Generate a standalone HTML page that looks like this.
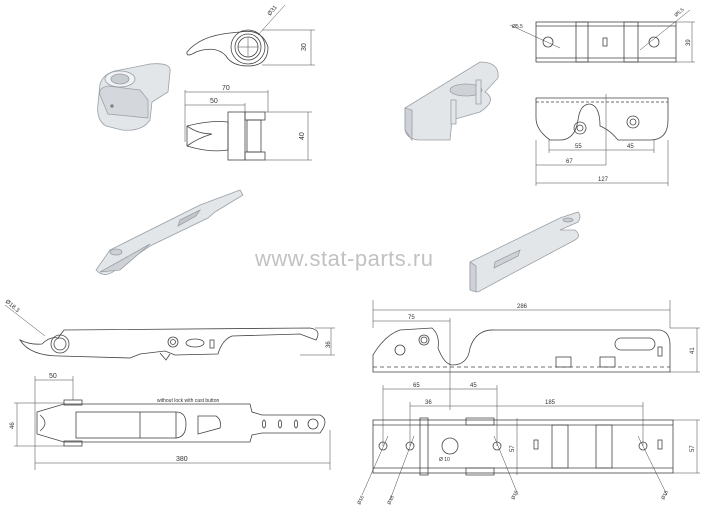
<!DOCTYPE html>
<html><head><meta charset="utf-8"><style>
html,body{margin:0;padding:0;background:#fff;width:721px;height:513px;overflow:hidden}
svg{display:block}
text{font-family:"Liberation Sans",sans-serif;fill:#333}
</style></head><body>
<svg width="721" height="513" viewBox="0 0 721 513" xmlns="http://www.w3.org/2000/svg">
<g fill="none" stroke="#444" stroke-width="0.8">
<!-- ===== top-left hook 3D ===== -->
<g fill="#e3e6e9" stroke="#9aa0a6">
<path d="M100 84 Q104 72 120 70 L150 64 Q172 62 170 72 L168 92 L152 102 L150 120 Q142 132 122 130 L106 126 Q96 120 98 104 Z"/>
<path d="M100 95 Q98 88 108 86 L140 90 L148 100 L148 118 L108 114 Z" fill="#d4d8dc"/>
<ellipse cx="120" cy="79" rx="15" ry="8" fill="#f0f2f4"/>
<ellipse cx="120" cy="79" rx="9" ry="5" fill="#c8cdd2"/>
<circle cx="112" cy="106" r="1.5" fill="#777"/>
</g>
<!-- hook 2D -->
<path d="M187 52 Q200 36 230 33 L240 32 Q262 28 268 47 Q268 66 248 66 Q232 66 226 56 Q216 45 196 52 Q186 58 187 52 Z"/>
<circle cx="248" cy="47" r="17"/><circle cx="248" cy="47" r="13"/><circle cx="248" cy="47" r="10"/>
<line x1="238" y1="47" x2="258" y2="47" stroke-width="0.5"/><line x1="248" y1="37" x2="248" y2="57" stroke-width="0.5"/>
<line x1="258" y1="35" x2="285" y2="5" stroke-width="0.5"/>
<text x="270" y="16" font-size="6" transform="rotate(-50 270 16)" stroke="none">Ø31</text>
<line x1="262" y1="30" x2="315" y2="30" stroke-width="0.5"/><line x1="262" y1="65" x2="315" y2="65" stroke-width="0.5"/>
<line x1="311" y1="30" x2="311" y2="65" stroke-width="0.5"/>
<text x="306" y="51" font-size="7" transform="rotate(-90 306 51)" stroke="none">30</text>
<!-- fork 2D -->
<path d="M187 126 Q210 120 228 122 L228 150 Q210 153 187 146 Z"/>
<path d="M187 126 Q198 134 212 134 Q198 138 187 146"/>
<rect x="228" y="112" width="17" height="48"/><rect x="245" y="112" width="20" height="8"/><rect x="245" y="152" width="20" height="8"/>
<rect x="247" y="120" width="14" height="32"/>
<line x1="185" y1="90" x2="185" y2="142" stroke-width="0.5"/>
<line x1="185" y1="92" x2="268" y2="92" stroke-width="0.5"/><text x="222" y="90" font-size="7" stroke="none">70</text>
<line x1="185" y1="105" x2="245" y2="105" stroke-width="0.5"/><text x="210" y="103" font-size="7" stroke="none">50</text>
<line x1="268" y1="90" x2="268" y2="112" stroke-width="0.5"/><line x1="245" y1="103" x2="245" y2="112" stroke-width="0.5"/>
<line x1="265" y1="112" x2="312" y2="112" stroke-width="0.5"/><line x1="265" y1="160" x2="312" y2="160" stroke-width="0.5"/>
<line x1="308" y1="112" x2="308" y2="160" stroke-width="0.5"/>
<text x="304" y="140" font-size="7" transform="rotate(-90 304 140)" stroke="none">40</text>
<!-- long arm 3D -->
<g fill="#e3e6e9" stroke="#9aa0a6">
<path d="M96 270 L110 250 L200 205 L240 190 L243 195 L215 212 L208 218 L150 246 L118 268 Q105 280 96 270 Z"/>
<path d="M100 272 L118 262 L150 244 L120 270 Z" fill="#ced2d6"/>
<ellipse cx="116" cy="252" rx="6" ry="3" fill="#cdd2d7"/>
<path d="M180 220 L200 210 L196 216 L178 226 Z" fill="#c2c7cc"/>
</g>
<!-- ===== top-right ===== -->
<g fill="#e3e6e9" stroke="#9aa0a6">
<path d="M405 108 L480 62 Q500 62 498 78 L485 92 Q498 100 480 112 L452 120 L450 140 L418 140 Q405 138 405 128 Z"/>
<path d="M405 108 L412 110 L412 140 L405 130 Z" fill="#ced2d6"/>
<ellipse cx="466" cy="90" rx="16" ry="6" fill="#ced2d6"/>
<rect x="476" y="80" width="5" height="24"/><rect x="451" y="100" width="5" height="24"/>
</g>
<rect x="536" y="22" width="140" height="40"/>
<line x1="536" y1="26" x2="676" y2="26"/><line x1="536" y1="58" x2="676" y2="58"/>
<rect x="576" y="22" width="12" height="40"/><rect x="624" y="22" width="14" height="40"/>
<rect x="603" y="38" width="4" height="8"/>
<circle cx="548" cy="42" r="5"/><circle cx="654" cy="42" r="5"/>
<line x1="510" y1="25" x2="560" y2="48" stroke-width="0.5"/><line x1="640" y1="50" x2="690" y2="10" stroke-width="0.5"/>
<text x="512" y="28" font-size="5" stroke="none">Ø5.5</text><text x="676" y="17" font-size="5" stroke="none" transform="rotate(-40 676 17)">Ø5.5</text>
<line x1="676" y1="22" x2="695" y2="22" stroke-width="0.5"/><line x1="676" y1="62" x2="695" y2="62" stroke-width="0.5"/>
<line x1="692" y1="22" x2="692" y2="62" stroke-width="0.5"/><text x="690" y="46" font-size="6" stroke="none" transform="rotate(-90 690 46)">39</text>
<path d="M536 98 L668 98 L668 120 Q668 140 650 140 L618 140 Q610 130 600 126 Q600 106 590 104 Q580 104 578 120 Q575 140 560 140 L550 140 Q536 130 536 118 Z"/>
<line x1="536" y1="102" x2="668" y2="102" stroke-dasharray="3 2"/>
<circle cx="580" cy="128" r="6"/><circle cx="580" cy="128" r="3"/>
<circle cx="633" cy="122" r="6"/><circle cx="633" cy="122" r="3"/>
<line x1="606" y1="94" x2="606" y2="165" stroke-width="0.5"/>
<line x1="549" y1="140" x2="549" y2="153" stroke-width="0.5"/><line x1="654" y1="140" x2="654" y2="153" stroke-width="0.5"/>
<line x1="549" y1="150" x2="654" y2="150" stroke-width="0.5"/>
<text x="575" y="148" font-size="6" stroke="none">55</text><text x="627" y="148" font-size="6" stroke="none">45</text>
<line x1="536" y1="140" x2="536" y2="186" stroke-width="0.5"/><line x1="668" y1="140" x2="668" y2="186" stroke-width="0.5"/>
<line x1="536" y1="165" x2="606" y2="165" stroke-width="0.5"/><text x="566" y="163" font-size="6" stroke="none">67</text>
<line x1="536" y1="183" x2="668" y2="183" stroke-width="0.5"/><text x="598" y="181" font-size="6" stroke="none">127</text>
<g fill="#e3e6e9" stroke="#9aa0a6">
<path d="M470 262 L560 218 L578 212 Q582 216 578 222 L560 230 L575 230 Q582 236 575 240 L500 280 L478 292 L470 290 Z"/>
<path d="M470 262 L476 266 L476 292 L470 290 Z" fill="#ced2d6"/>
<ellipse cx="568" cy="220" rx="5" ry="2" fill="#c8cdd2"/>
<path d="M495 262 L520 250 L518 256 L494 268 Z" fill="#ced2d6"/>
</g>
<!-- ===== bottom-left ===== -->
<path d="M20 340 Q30 345 42 344 Q50 336 58 338 L64 330 L310 328 Q322 330 316 340 L300 334 L232 336 Q222 340 218 354 L175 355 L165 351 L140 354 L130 358 L60 356 Q30 356 20 340 Z"/>
<circle cx="60" cy="344" r="9"/><circle cx="60" cy="344" r="6"/>
<circle cx="173" cy="342" r="5"/><circle cx="173" cy="342" r="2.5"/>
<ellipse cx="195" cy="343" rx="9" ry="4"/><rect x="210" y="340" width="4" height="8"/>
<path d="M160 353 L166 360 L170 354"/>
<line x1="5" y1="305" x2="45" y2="336" stroke-width="0.5"/>
<text x="5" y="302" font-size="6" stroke="none" transform="rotate(40 5 302)">Ø18.3</text>
<line x1="315" y1="328" x2="335" y2="328" stroke-width="0.5"/><line x1="300" y1="355" x2="335" y2="355" stroke-width="0.5"/>
<line x1="331" y1="328" x2="331" y2="355" stroke-width="0.5"/><text x="330" y="348" font-size="6" stroke="none" transform="rotate(-90 330 348)">36</text>
<path d="M37 412 L64 404 L250 404 L252 412 L262 415 L320 415 Q330 420 320 433 L262 433 L252 435 L250 442 L64 442 L37 434 Z"/>
<path d="M40 415 Q50 423 40 431"/>
<rect x="64" y="400" width="18" height="5"/><rect x="64" y="441" width="18" height="5"/>
<rect x="76" y="412" width="100" height="26"/><line x1="140" y1="412" x2="140" y2="438"/>
<path d="M176 412 Q186 412 186 424 Q186 437 176 438"/>
<path d="M198 416 L216 416 Q222 420 220 428 L198 434 Z"/>
<ellipse cx="264" cy="424" rx="1.5" ry="4"/><ellipse cx="280" cy="424" rx="1.5" ry="4"/><ellipse cx="296" cy="424" rx="1.5" ry="4"/>
<circle cx="313" cy="424" r="5"/>
<text x="157" y="402" font-size="5" stroke="none">without lock with cast button</text>
<line x1="35" y1="376" x2="35" y2="470" stroke-width="0.5"/><line x1="73" y1="376" x2="73" y2="400" stroke-width="0.5"/>
<line x1="35" y1="380" x2="73" y2="380" stroke-width="0.5"/><text x="49" y="378" font-size="7" stroke="none">50</text>
<line x1="330" y1="430" x2="330" y2="470" stroke-width="0.5"/>
<line x1="35" y1="463" x2="330" y2="463" stroke-width="0.5"/><text x="176" y="461" font-size="7" stroke="none">380</text>
<line x1="14" y1="403" x2="64" y2="403" stroke-width="0.5"/><line x1="14" y1="446" x2="64" y2="446" stroke-width="0.5"/>
<line x1="17" y1="403" x2="17" y2="446" stroke-width="0.5"/>
<text x="14" y="429" font-size="6" stroke="none" transform="rotate(-90 14 429)">46</text>
<!-- ===== bottom-right ===== -->
<path d="M373 355 Q385 335 400 330 L432 328 Q440 335 438 348 Q444 364 452 365 Q468 365 470 348 Q476 329 495 330 L660 330 Q670 332 670 345 L670 372 L373 372 Z"/>
<line x1="373" y1="367" x2="670" y2="367" stroke-dasharray="4 3"/>
<circle cx="400" cy="350" r="5"/><circle cx="424" cy="340" r="5"/><circle cx="424" cy="340" r="3"/>
<rect x="615" y="338" width="40" height="12" rx="6"/><rect x="658" y="347" width="4" height="9"/>
<rect x="556" y="357" width="15" height="10"/><rect x="600" y="357" width="15" height="10"/>
<line x1="373" y1="300" x2="373" y2="328" stroke-width="0.5"/><line x1="670" y1="300" x2="670" y2="328" stroke-width="0.5"/>
<line x1="373" y1="310" x2="670" y2="310" stroke-width="0.5"/><text x="517" y="308" font-size="6" stroke="none">286</text>
<line x1="373" y1="321" x2="450" y2="321" stroke-width="0.5"/><text x="408" y="319" font-size="6" stroke="none">75</text>
<line x1="450" y1="318" x2="450" y2="410" stroke-width="0.5"/>
<line x1="670" y1="328" x2="700" y2="328" stroke-width="0.5"/><line x1="670" y1="372" x2="700" y2="372" stroke-width="0.5"/>
<line x1="697" y1="328" x2="697" y2="372" stroke-width="0.5"/><text x="694" y="354" font-size="6" stroke="none" transform="rotate(-90 694 354)">41</text>
<rect x="373" y="420" width="300" height="53"/>
<line x1="373" y1="425" x2="673" y2="425"/><line x1="373" y1="468" x2="673" y2="468"/>
<rect x="420" y="418" width="8" height="57"/>
<circle cx="450" cy="446" r="8"/><text x="439" y="461" font-size="5" stroke="none">Ø 10</text>
<path d="M466 418 L494 418 L494 425 L466 425 Z M466 468 L494 468 L494 475 L466 475 Z"/>
<circle cx="383" cy="446" r="4"/><circle cx="410" cy="446" r="4"/><circle cx="497" cy="446" r="4"/><circle cx="643" cy="446" r="4"/>
<rect x="534" y="440" width="4" height="9"/><rect x="658" y="440" width="4" height="9"/>
<path d="M552 425 L568 425 L568 468 L552 468 Z M596 425 L612 425 L612 468 L596 468 Z"/>
<line x1="383" y1="385" x2="383" y2="446" stroke-width="0.5"/><line x1="497" y1="385" x2="497" y2="446" stroke-width="0.5"/>
<line x1="410" y1="402" x2="410" y2="446" stroke-width="0.5"/><line x1="643" y1="402" x2="643" y2="446" stroke-width="0.5"/>
<line x1="383" y1="389" x2="497" y2="389" stroke-width="0.5"/><text x="413" y="387" font-size="6" stroke="none">65</text><text x="470" y="387" font-size="6" stroke="none">45</text>
<line x1="410" y1="406" x2="643" y2="406" stroke-width="0.5"/><text x="425" y="404" font-size="6" stroke="none">36</text><text x="545" y="404" font-size="6" stroke="none">185</text>
<line x1="517" y1="418" x2="517" y2="475" stroke-width="0.5"/>
<text x="514" y="452" font-size="6" stroke="none" transform="rotate(-90 514 452)">57</text>
<line x1="673" y1="420" x2="700" y2="420" stroke-width="0.5"/><line x1="673" y1="473" x2="700" y2="473" stroke-width="0.5"/>
<line x1="697" y1="420" x2="697" y2="473" stroke-width="0.5"/><text x="694" y="452" font-size="6" stroke="none" transform="rotate(-90 694 452)">57</text>
<line x1="388" y1="436" x2="362" y2="495" stroke-width="0.5"/><line x1="414" y1="436" x2="390" y2="500" stroke-width="0.5"/>
<line x1="494" y1="436" x2="518" y2="495" stroke-width="0.5"/><line x1="638" y1="436" x2="667" y2="495" stroke-width="0.5"/>
<text x="360" y="505" font-size="5" stroke="none" transform="rotate(-65 360 505)">Ø16</text>
<text x="390" y="505" font-size="5" stroke="none" transform="rotate(-65 390 505)">Ø16</text>
<text x="514" y="500" font-size="5" stroke="none" transform="rotate(-65 514 500)">Ø16</text>
<text x="664" y="500" font-size="5" stroke="none" transform="rotate(-65 664 500)">Ø16</text>
</g>
<text x="255" y="266" font-size="22" style="fill:#c2c2c2;letter-spacing:0.5px">www.stat-parts.ru</text>
</svg>
</body></html>
